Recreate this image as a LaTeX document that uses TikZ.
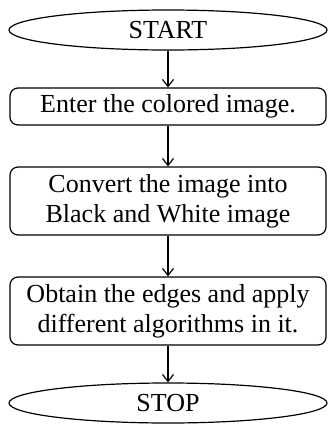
\documentclass[tikz,border=0pt]{standalone}
\usepackage{fontspec}
\setmainfont{Liberation Serif}
\usetikzlibrary{shapes.geometric,arrows.meta}
\begin{document}
\begin{tikzpicture}[x=1pt,y=-1pt,
  every node/.style={font=\fontsize{26}{30}\selectfont, inner sep=0pt, align=center},
  term/.style={draw, ellipse, line width=1.2pt, minimum width=318pt, minimum height=40pt},
  stepbox/.style={draw, rectangle, rounded corners=8pt, line width=1.2pt, minimum width=316pt},
  flow/.style={-{Straight Barb[length=7pt,width=11pt,line width=1.2pt]}, line width=1.2pt}]
  \useasboundingbox (0,0) rectangle (328,424);
  \node[term] (start) at (168,30) {START};
  \node[stepbox, minimum height=37pt] (b1) at (168,106.5) {Enter the colored image.};
  \node[stepbox, minimum height=68pt] (b2) at (168,201) {Convert the image into\\Black and White image};
  \node[stepbox, minimum height=68pt] (b3) at (168,311) {Obtain the edges and apply\\different algorithms in it.};
  \node[term] (stop) at (168,403) {STOP};
  \draw[flow] (start) -- (b1);
  \draw[flow] (b1) -- (b2);
  \draw[flow] (b2) -- (b3);
  \draw[flow] (b3) -- (stop);
\end{tikzpicture}
\end{document}
